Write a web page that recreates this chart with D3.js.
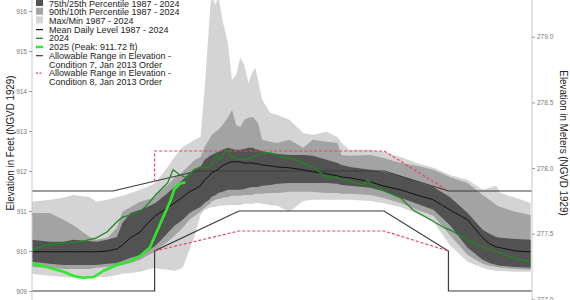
<!DOCTYPE html>
<html>
<head>
<meta charset="utf-8">
<script src="https://cdn.jsdelivr.net/npm/d3@7"></script>
<style>
    body { margin: 0; background: #fff; }
    svg { display: block; font-family: "Liberation Sans", Arial, sans-serif; }
    .axis .domain { stroke: #c8c8c8; }
    .axis .tick line { stroke: #999; }
    .axis .tick text { fill: #777; font-size: 6.5px; }
</style>
</head>
<body>
<div id="graphDiv"></div>
<script>
// day of year for the percentile bands
var days = [0, 13, 23, 30, 42, 47, 55, 62, 66, 72, 79, 84, 90, 93, 99, 104, 110, 115, 119, 123,
    126, 130, 131, 134, 136, 139, 143, 146, 149, 152, 155, 158, 161, 163, 165, 168, 174, 179, 188, 198,
    205, 215, 223, 226, 232, 247, 256, 269, 281, 293, 305, 318, 329, 334, 339, 342, 353, 364];

var maxLevel = [911.23, 911.28, 911.33, 911.40, 911.35, 911.23, 911.28, 911.35, 911.38, 911.45,
    911.53, 911.60, 911.70, 911.83, 912.10, 912.35, 912.60, 912.70, 912.78, 912.85,
    914.03, 916.03, 916.40, 916.15, 916.40, 915.78, 915.20, 914.28, 914.40, 914.83,
    914.65, 914.20, 914.48, 914.58, 914.28, 913.78, 913.45, 913.40, 913.28, 912.95,
    912.90, 912.98, 912.85, 912.70, 912.53, 912.53, 912.48, 912.35, 912.20, 912.08,
    911.90, 911.78, 911.53, 911.58, 911.63, 911.45, 911.33, 911.20];
var p90 = [910.95, 910.95, 910.78, 910.65, 910.35, 910.28, 910.33, 910.58, 910.98, 911.10,
    911.23, 911.28, 911.35, 911.48, 911.65, 911.83, 911.98, 912.15, 912.28, 912.35,
    912.60, 912.83, 912.90, 912.98, 913.03, 913.15, 913.33, 913.53, 913.15, 913.10,
    913.28, 913.33, 913.35, 913.28, 913.20, 912.78, 912.73, 912.70, 912.78, 912.58,
    912.78, 912.73, 912.70, 912.40, 912.38, 912.40, 912.33, 912.20, 912.13, 912.03,
    911.85, 911.70, 911.40, 911.28, 911.15, 911.10, 910.98, 910.90];
var p75 = [910.28, 910.23, 910.23, 910.28, 910.25, 910.23, 910.28, 910.35, 910.70, 910.95,
    911.03, 911.10, 911.20, 911.28, 911.45, 911.60, 911.78, 911.95, 912.03, 912.10,
    912.28, 912.38, 912.40, 912.45, 912.48, 912.53, 912.58, 912.55, 912.53, 912.53,
    912.55, 912.58, 912.58, 912.55, 912.53, 912.50, 912.45, 912.43, 912.40, 912.40,
    912.38, 912.28, 912.20, 912.15, 912.10, 912.03, 911.98, 911.88, 911.73, 911.60,
    911.35, 910.95, 910.53, 910.43, 910.35, 910.33, 910.30, 910.28];
var meanLevel = [909.98, 909.98, 909.98, 909.98, 909.98, 909.98, 910.00, 910.05, 910.15, 910.33,
    910.48, 910.68, 910.88, 910.95, 911.08, 911.20, 911.35, 911.48, 911.55, 911.63,
    911.78, 911.90, 911.95, 912.00, 912.05, 912.13, 912.20, 912.23, 912.23, 912.23,
    912.20, 912.20, 912.20, 912.18, 912.18, 912.15, 912.13, 912.10, 912.08, 912.03,
    911.98, 911.93, 911.88, 911.85, 911.83, 911.73, 911.63, 911.53, 911.40, 911.28,
    911.03, 910.78, 910.33, 910.18, 910.10, 910.08, 910.00, 909.98];
var p25 = [909.73, 909.68, 909.65, 909.65, 909.65, 909.65, 909.68, 909.70, 909.75, 909.83,
    909.90, 909.98, 910.13, 910.23, 910.45, 910.63, 910.78, 910.95, 911.03, 911.10,
    911.20, 911.30, 911.35, 911.40, 911.45, 911.48, 911.53, 911.53, 911.53, 911.53,
    911.55, 911.58, 911.60, 911.60, 911.60, 911.63, 911.65, 911.68, 911.70, 911.70,
    911.70, 911.70, 911.68, 911.65, 911.63, 911.58, 911.50, 911.33, 911.18, 911.03,
    910.65, 910.08, 909.78, 909.70, 909.65, 909.63, 909.60, 909.58];
var p10 = [909.60, 909.58, 909.55, 909.55, 909.55, 909.58, 909.60, 909.63, 909.65, 909.70,
    909.78, 909.88, 909.98, 910.08, 910.23, 910.38, 910.58, 910.78, 910.88, 910.98,
    911.08, 911.18, 911.23, 911.28, 911.30, 911.33, 911.35, 911.38, 911.38, 911.38,
    911.40, 911.40, 911.40, 911.43, 911.43, 911.43, 911.45, 911.45, 911.48, 911.48,
    911.48, 911.45, 911.45, 911.43, 911.43, 911.40, 911.33, 911.20, 911.03, 910.88,
    910.40, 909.90, 909.68, 909.63, 909.60, 909.58, 909.55, 909.53];
var minLevel = [909.43, 909.38, 909.35, 909.33, 909.35, 909.35, 909.35, 909.40, 909.43, 909.45,
    909.48, 909.53, 909.58, 909.55, 909.53, 909.50, 909.58, 910.03, 910.40, 910.90,
    911.03, 911.08, 911.10, 911.10, 911.13, 911.13, 911.15, 911.15, 911.15, 911.15,
    911.18, 911.18, 911.18, 911.20, 911.20, 911.18, 911.15, 911.13, 910.98, 911.25,
    911.28, 911.28, 911.28, 911.28, 911.28, 911.25, 911.20, 911.10, 910.93, 910.73,
    910.15, 909.73, 909.58, 909.53, 909.50, 909.50, 909.48, 909.48];

// 2024 and 2025 daily levels
var days2024 = [0, 11, 23, 35, 47, 55, 62, 66, 72, 79, 84, 91, 99, 103, 108, 113, 118, 123, 128, 132,
    135, 137, 142, 147, 154, 159, 169, 174, 183, 193, 205, 215, 223, 234, 242, 245, 247, 259, 269, 278,
    291, 300, 305, 318, 329, 342, 354, 364];
var level2024 = [910.03, 910.15, 910.20, 910.23, 910.33, 910.48, 910.73, 910.85, 910.90, 910.98,
    911.15, 911.43, 911.70, 912.03, 911.90, 911.83, 912.03, 912.10, 912.08, 912.20,
    912.40, 912.28, 912.53, 912.33, 912.28, 912.33, 912.45, 912.45, 912.35, 912.28,
    912.10, 911.85, 911.83, 911.73, 911.65, 911.78, 911.68, 911.48, 911.33, 911.03,
    910.78, 910.60, 910.53, 910.28, 910.10, 909.95, 909.80, 909.73];
var days2025 = [0, 11, 23, 30, 37, 45, 52, 62, 72, 79, 86, 93, 101, 104, 108, 112];
var level2025 = [909.68, 909.60, 909.48, 909.38, 909.33, 909.35, 909.50, 909.65, 909.75, 909.88,
    910.08, 910.63, 911.25, 911.55, 911.68, 911.72];

// allowable ranges (Jan 2013 order)
var cond7UpperDays = [0, 59, 121, 257, 304, 365];
var cond7Upper = [911.5, 911.5, 912.0, 912.0, 911.5, 911.5];
var cond7LowerDays = [0, 89.5, 89.5, 151, 257, 304, 304, 365];
var cond7Lower = [909, 909, 910, 911, 911, 910, 909, 909];
var cond8UpperDays = [89.5, 89.5, 257, 304];
var cond8Upper = [911.74, 912.5, 912.5, 911.5];
var cond8LowerDays = [89.5, 151, 257, 304];
var cond8Lower = [910.0, 910.5, 910.5, 910.0];

var feetTicks = [909, 910, 911, 912, 913, 914, 915, 916];
var meterTicks = [277.0, 277.5, 278.0, 278.5, 279.0];

var legendLabels = [
    ["75th/25th Percentile 1987 - 2024"],
    ["90th/10th Percentile 1987 - 2024"],
    ["Max/Min 1987 - 2024"],
    ["Mean Daily Level 1987 - 2024"],
    ["2024"],
    ["2025 (Peak: 911.72 ft)"],
    ["Allowable Range in Elevation -", "Condition 7, Jan 2013 Order"],
    ["Allowable Range in Elevation -", "Condition 8, Jan 2013 Order"]
];

var W = 570, H = 300;
var left = 32, right = 532;

var x = d3.scaleLinear().domain([0, 365]).range([left, right]);
var y = d3.scaleLinear().domain([909, 916]).range([291, 11]);
// meters axis follows the feet axis
var yM = d3.scaleLinear().domain([909 * 0.3048, 916 * 0.3048]).range([291, 11]);

var svg = d3.select("#graphDiv").append("svg")
    .attr("width", W)
    .attr("height", H);

svg.append("clipPath").attr("id", "plotClip")
    .append("rect").attr("x", left).attr("y", 0).attr("width", right - left).attr("height", H);

var plot = svg.append("g").attr("clip-path", "url(#plotClip)");

function band(lo, hi) {
    return d3.area()
        .x(function (d, i) { return x(days[i]); })
        .y0(function (d, i) { return y(lo[i]); })
        .y1(function (d, i) { return y(hi[i]); })(days);
}

function pairs(xs, ys) {
    return xs.map(function (d, i) { return [d, ys[i]]; });
}

var lineFunc = d3.line()
    .x(function (d) { return x(d[0]); })
    .y(function (d) { return y(d[1]); });

plot.append("path").attr("d", band(minLevel, maxLevel)).attr("fill", "#d4d4d4");
plot.append("path").attr("d", band(p10, p90)).attr("fill", "#a3a3a3");
plot.append("path").attr("d", band(p25, p75)).attr("fill", "#525252");

// condition 7 limits
[[cond7UpperDays, cond7Upper], [cond7LowerDays, cond7Lower]].forEach(function (c) {
    plot.append("path")
        .attr("d", lineFunc(pairs(c[0], c[1])))
        .attr("fill", "none")
        .attr("stroke", "#3a3a3a")
        .attr("stroke-width", 1.2);
});
// condition 8 limits
[[cond8UpperDays, cond8Upper], [cond8LowerDays, cond8Lower]].forEach(function (c) {
    plot.append("path")
        .attr("d", lineFunc(pairs(c[0], c[1])))
        .attr("fill", "none")
        .attr("stroke", "#e8475f")
        .attr("stroke-width", 1.2)
        .attr("stroke-dasharray", "3,2");
});

plot.append("path")
    .attr("d", lineFunc(pairs(days, meanLevel)))
    .attr("fill", "none").attr("stroke", "#111").attr("stroke-width", 1);
plot.append("path")
    .attr("d", lineFunc(pairs(days2024, level2024)))
    .attr("fill", "none").attr("stroke", "#1e8a1e").attr("stroke-width", 1.3);
plot.append("path")
    .attr("d", lineFunc(pairs(days2025, level2025)))
    .attr("fill", "none").attr("stroke", "#2ee82e").attr("stroke-width", 2.6)
    .attr("stroke-linejoin", "round");

// axes
svg.append("g").attr("class", "axis")
    .attr("transform", "translate(" + left + ",0)")
    .call(d3.axisLeft(y).tickValues(feetTicks).tickSize(3).tickPadding(2).tickFormat(d3.format("d")))
    .call(function (g) { g.select(".domain").attr("d", "M0,0V" + H); });
svg.append("g").attr("class", "axis")
    .attr("transform", "translate(" + right + ",0)")
    .call(d3.axisRight(yM).tickValues(meterTicks).tickSize(3).tickPadding(2).tickFormat(d3.format(".1f")))
    .call(function (g) { g.select(".domain").attr("d", "M0,0V" + H); });

svg.append("text")
    .attr("transform", "translate(14,143) rotate(-90) scale(1,1.2)")
    .attr("text-anchor", "middle")
    .attr("font-size", 9.8)
    .attr("fill", "#222")
    .text("Elevation in Feet (NGVD 1929)");
svg.append("text")
    .attr("transform", "translate(560,143) rotate(90) scale(1,1.2)")
    .attr("text-anchor", "middle")
    .attr("font-size", 9.8)
    .attr("fill", "#222")
    .text("Elevation in Meters (NGVD 1929)");

// legend
var legend = svg.append("g").attr("transform", "translate(36,0)");
var swatches = [
    {type: "box", color: "#525252"},
    {type: "box", color: "#a3a3a3"},
    {type: "box", color: "#d4d4d4"},
    {type: "line", color: "#111", width: 1.2},
    {type: "line", color: "#1e8a1e", width: 1.3},
    {type: "line", color: "#2ee82e", width: 2.5},
    {type: "line", color: "#3a3a3a", width: 1.2},
    {type: "line", color: "#e8475f", width: 1.2, dash: "2,1.5"}
];
var rowY = 6.5;
legendLabels.forEach(function (lines, i) {
    var s = swatches[i];
    if (s.type == "box") {
        legend.append("rect").attr("x", 0).attr("y", rowY - 7.5).attr("width", 7).attr("height", 7).attr("fill", s.color);
    } else {
        legend.append("line").attr("x1", 0).attr("x2", 7).attr("y1", rowY - 3).attr("y2", rowY - 3)
            .attr("stroke", s.color).attr("stroke-width", s.width)
            .attr("stroke-dasharray", s.dash || null);
    }
    lines.forEach(function (t, j) {
        legend.append("text")
            .attr("x", 13)
            .attr("y", rowY + j * 9)
            .attr("font-size", 9)
            .attr("fill", "#222")
            .text(t);
    });
    rowY += lines.length * 9 - (lines.length > 1 ? 0.5 : 0.3);
});
</script>
</body>
</html>
